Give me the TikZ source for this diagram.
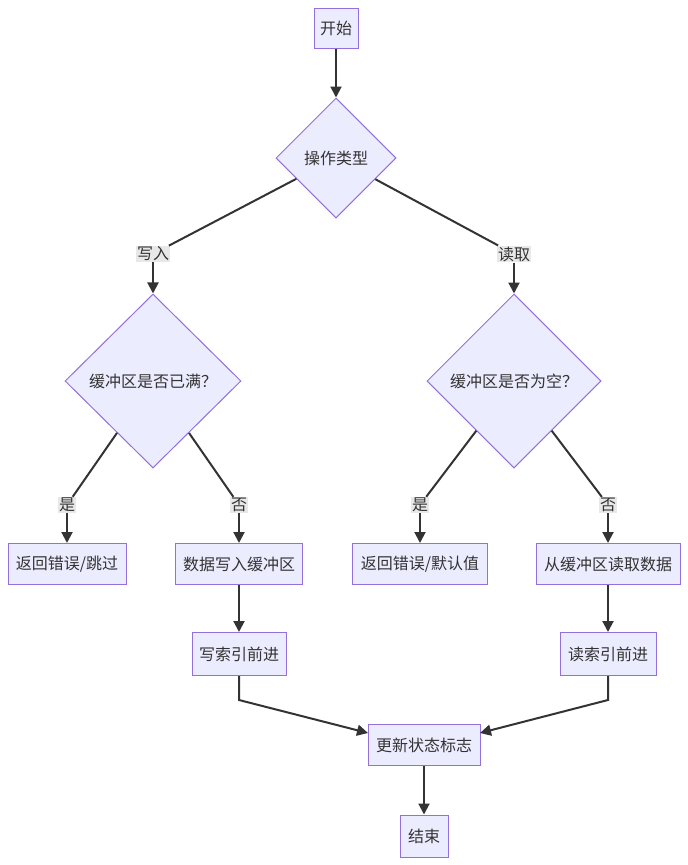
\documentclass[tikz,border=0pt]{standalone}
\usepackage{fontspec}
\setmainfont{Noto Sans CJK SC}
\usetikzlibrary{shapes.geometric,arrows.meta}
\definecolor{nfill}{HTML}{ECECFF}
\definecolor{nline}{HTML}{9370DB}
\definecolor{ink}{HTML}{333333}
\definecolor{lbg}{HTML}{E8E8E8}
\tikzset{
  box/.style={draw=nline, fill=nfill, line width=1pt, text=ink, inner sep=0pt, font=\fontsize{16}{18}\selectfont},
  dia/.style={box, shape=diamond},
  lbl/.style={fill=lbg, text=ink, inner sep=1pt, font=\fontsize{16}{18}\selectfont},
  conn/.style={draw=ink, line width=2pt},
  arr/.style={conn, -{Triangle[length=11pt,width=11pt]}}
}
\begin{document}
\begin{tikzpicture}[x=1pt,y=-1pt]
\useasboundingbox (0,0) rectangle (688,865);
\node[box, minimum width=44pt, minimum height=40pt] (start) at (336,28) {开始};
\node[dia, minimum width=120pt, minimum height=120pt] (op) at (336,158) {操作类型};
\node[lbl] (lw) at (153,254) {写入};
\node[lbl] (lr) at (514,254) {读取};
\node[dia, minimum width=176pt, minimum height=174pt] (d1) at (153,381) {缓冲区是否已满？};
\node[dia, minimum width=174pt, minimum height=174pt] (d2) at (514,381) {缓冲区是否为空？};
\node[lbl] (ly1) at (67,505) {是};
\node[lbl] (ln1) at (239,505) {否};
\node[lbl] (ly2) at (420,505) {是};
\node[lbl] (ln2) at (608,505) {否};
\node[box, minimum width=118pt, minimum height=41pt] (e1) at (67,564) {返回错误/跳过};
\node[box, minimum width=127pt, minimum height=41pt] (wr) at (239,564) {数据写入缓冲区};
\node[box, minimum width=135pt, minimum height=41pt] (e2) at (420,564) {返回错误/默认值};
\node[box, minimum width=144pt, minimum height=41pt] (rd) at (608,564) {从缓冲区读取数据};
\node[box, minimum width=94pt, minimum height=43pt] (w2) at (239,654) {写索引前进};
\node[box, minimum width=96pt, minimum height=43pt] (r2) at (608,654) {读索引前进};
\node[box, minimum width=112pt, minimum height=41pt] (upd) at (424,745) {更新状态标志};
\node[box, minimum width=48pt, minimum height=42pt] (end) at (424,836) {结束};
\coordinate (wbend) at (239,700);
\coordinate (rbend) at (608,700);
\coordinate (uin) at (368,733);
\coordinate (uin2) at (480,733);

\draw[arr] (start) -- (op);
\draw[conn] (op) -- (lw);
\draw[arr] (lw) -- (d1);
\draw[conn] (op) -- (lr);
\draw[arr] (lr) -- (d2);
\draw[conn] (d1) -- (ly1);
\draw[arr] (ly1) -- (e1);
\draw[conn] (d1) -- (ln1);
\draw[arr] (ln1) -- (wr);
\draw[conn] (d2) -- (ly2);
\draw[arr] (ly2) -- (e2);
\draw[conn] (d2) -- (ln2);
\draw[arr] (ln2) -- (rd);
\draw[arr] (wr) -- (w2);
\draw[arr] (rd) -- (r2);
\draw[arr] (w2.south) -- (wbend) -- (uin);
\draw[arr] (r2.south) -- (rbend) -- (uin2);
\draw[arr] (upd) -- (end);
\end{tikzpicture}
\end{document}
